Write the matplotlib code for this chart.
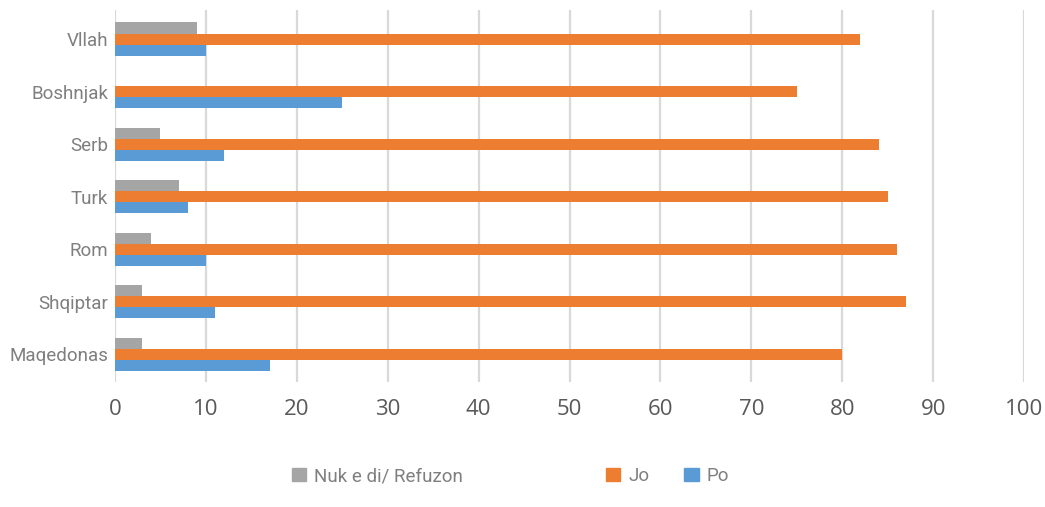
import numpy as np
import matplotlib
matplotlib.use('Agg')
from matplotlib import pyplot as plt
from matplotlib.patches import Patch

categories = ['Maqedonas', 'Shqiptar', 'Rom', 'Turk', 'Serb', 'Boshnjak', 'Vllah']
po = [17, 11, 10, 8, 12, 25, 10]
jo = [80, 87, 86, 85, 84, 75, 82]
nuk = [3, 3, 4, 7, 5, 0, 9]
xticks = [0, 10, 20, 30, 40, 50, 60, 70, 80, 90, 100]

c_nuk = '#A5A5A5'
c_jo = '#ED7D31'
c_po = '#5B9BD5'
txt = '#7F7F7F'

fig = plt.figure(figsize=(10.45, 5.07), dpi=100)
ax = fig.add_axes([0.110, 0.2465, 0.870, 0.7335])

y = np.arange(len(categories))
h = 0.21
ax.barh(y + h, nuk, height=h, color=c_nuk, zorder=3)
ax.barh(y, jo, height=h, color=c_jo, zorder=3)
ax.barh(y - h, po, height=h, color=c_po, zorder=3)

ax.set_xlim(0, 100)
ax.set_ylim(-0.53, 6.55)
ax.set_xticks(xticks)
ax.set_xticklabels([str(v) for v in xticks], fontsize=16, color='#595959', family='Open Sans')
ax.set_yticks(y)
ax.set_yticklabels(categories, fontsize=13.5, color=txt, family='Roboto')
ax.tick_params(length=0)
ax.tick_params(axis='x', pad=12)
ax.tick_params(axis='y', pad=5)
for s in ax.spines.values():
    s.set_visible(False)
ax.grid(axis='x', color='#D9D9D9', linewidth=1.6, zorder=0)
ax.set_axisbelow(True)

items = [(c_nuk, 'Nuk e di/ Refuzon', 0.279), (c_jo, 'Jo', 0.580), (c_po, 'Po', 0.655)]
for col, lab, xpos in items:
    fig.legend(handles=[Patch(color=col)], labels=[lab], loc='center left',
               bbox_to_anchor=(xpos, 0.061), frameon=False, handlelength=0.75,
               handleheight=0.75, handletextpad=0.45, borderpad=0, borderaxespad=0,
               prop={'family': 'Roboto', 'size': 13.5}, labelcolor=txt)

fig.savefig('out.png', dpi=100)
